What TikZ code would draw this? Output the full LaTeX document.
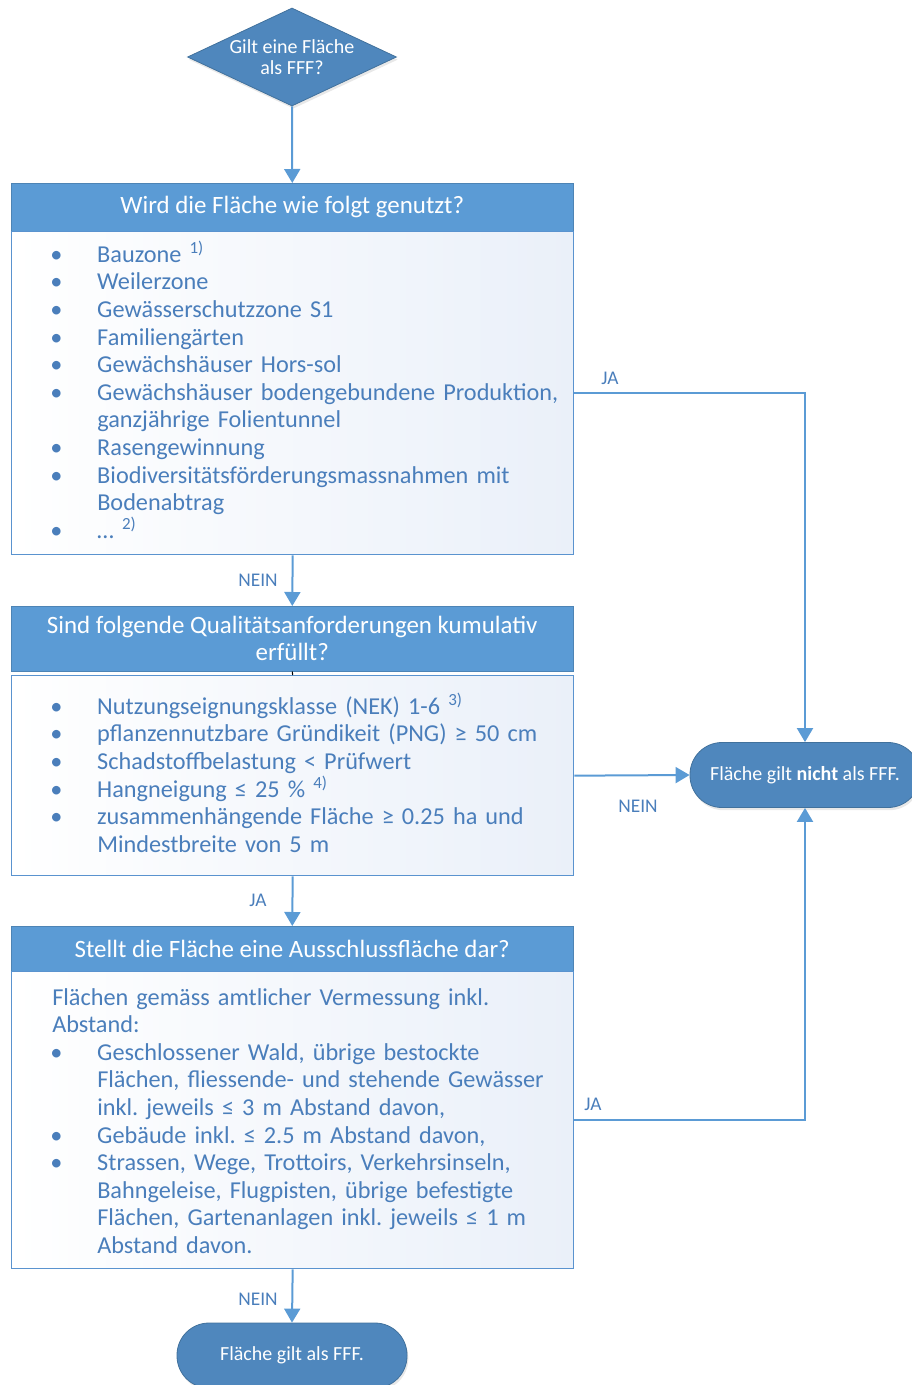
\documentclass[tikz,border=0pt]{standalone}
\usepackage{fontspec}
\setmainfont{Carlito}
\usetikzlibrary{shapes.geometric,arrows.meta,shadows}
\definecolor{hdrblue}{HTML}{5B9BD5}
\definecolor{termblue}{HTML}{4F87BD}
\definecolor{termedge}{HTML}{41719C}
\definecolor{txtblue}{HTML}{4A7EBB}
\definecolor{lineblue}{HTML}{5B9BD5}
\definecolor{edgeblue}{HTML}{5A93CF}
\definecolor{shadeblue}{HTML}{EAF0F9}
\hfuzz=60pt
\hbadness=10000
\frenchspacing
\newcommand\bitem[1]{\par\hangindent=33.75pt\hangafter=1\noindent\strut\makebox[33.75pt][l]{\hspace{-1.5pt}\textbullet}#1}
\newcommand\fn[1]{\textsuperscript{\smash{#1}}}
\begin{document}
\begin{tikzpicture}[x=0.75pt,y=-0.75pt,
  arr/.style={draw=lineblue, line width=1.5pt, -{Triangle[width=12pt,length=10.5pt]}},
  hdr/.style={rectangle, anchor=north west, fill=hdrblue, draw=hdrblue!85!black, line width=0.4pt,
    minimum width=421.5pt, text=white, align=center, inner sep=0pt,
    font=\fontsize{18.7pt}{20.25pt}\selectfont},
  body/.style={rectangle, anchor=north west, draw=edgeblue, line width=1pt,
    left color=white, right color=shadeblue, minimum width=421.5pt, inner sep=0pt},
  btxt/.style={anchor=north west, text width=480pt, inner xsep=0.75pt, inner ysep=0pt, text=txtblue,
    align=left, font=\fontsize{18.2pt}{20.7pt}\selectfont,
    execute at begin node={\leftskip=30pt\parskip=0pt\frenchspacing\hyphenpenalty=10000\lineskiplimit=-100pt}},
  term/.style={rectangle, rounded corners=24pt, fill=termblue, draw=termedge, line width=0.6pt,
    minimum width=172.5pt, minimum height=48.75pt, text=white, inner sep=0pt,
    font=\fontsize{15pt}{18pt}\selectfont, drop shadow={opacity=0.18, shadow xshift=1pt, shadow yshift=-2pt}},
  dia/.style={diamond, fill=termblue, draw=termedge, line width=0.6pt, inner sep=0pt,
    minimum width=156.75pt, minimum height=73.5pt,
    drop shadow={opacity=0.18, shadow xshift=1pt, shadow yshift=-2pt}},
  lbl/.style={text=txtblue, font=\fontsize{14.5pt}{17pt}\selectfont, inner sep=0pt}
]
\useasboundingbox (0,0) rectangle (911,1385);

% start diamond
\node[dia] (d) at (292,57) {};
\node[text=white, align=center, inner sep=0pt, font=\fontsize{15pt}{15.75pt}\selectfont] (dt) at (d.center) {Gilt eine Fläche\\als FFF?};

% box 1
\node[hdr, minimum height=36pt] (h1) at (11,183) {Wird die Fläche wie folgt genutzt?};
\node[body, minimum height=242.25pt] (b1) at (11,231) {};
\node[btxt] (b1t) at (11,234.4) {%
\bitem{Bauzone \fn{1)}}
\bitem{Weilerzone}
\bitem{Gewässerschutzzone S1}
\bitem{Familiengärten}
\bitem{Gewächshäuser Hors-sol}
\bitem{Gewächshäuser bodengebundene Produktion,\newline ganzjährige Folientunnel}
\bitem{Rasengewinnung}
\bitem{Biodiversitätsförderungsmassnahmen mit\newline Bodenabtrag}
\bitem{… \fn{2)}}\par};

% box 2
\node[hdr, minimum height=48.75pt] (h2) at (11,606) {Sind folgende Qualitätsanforderungen kumulativ\\erfüllt?};
\node[body, minimum height=150pt] (b2) at (11,675) {};
\node[btxt] (b2t) at (11,686.4) {%
\bitem{Nutzungseignungsklasse (NEK) 1-6 \fn{3)}}
\bitem{pflanzennutzbare Gründikeit (PNG) ≥ 50 cm}
\bitem{Schadstoffbelastung < Prüfwert}
\bitem{Hangneigung ≤ 25 \% \fn{4)}}
\bitem{zusammenhängende Fläche ≥ 0.25 ha und\newline Mindestbreite von 5 m}\par};

% box 3
\node[hdr, minimum height=33.75pt] (h3) at (11,926) {Stellt die Fläche eine Ausschlussfläche dar?};
\node[body, minimum height=222.75pt] (b3) at (11,971) {};
\node[btxt] (b3t) at (11,985.4) {%
\noindent\strut Flächen gemäss amtlicher Vermessung inkl.\newline Abstand:
\bitem{Geschlossener Wald, übrige bestockte\newline Flächen, fliessende- und stehende Gewässer\newline inkl. jeweils ≤ 3 m Abstand davon,}
\bitem{Gebäude inkl. ≤ 2.5 m Abstand davon,}
\bitem{Strassen, Wege, Trottoirs, Verkehrsinseln,\newline Bahngeleise, Flugpisten, übrige befestigte\newline Flächen, Gartenanlagen inkl. jeweils ≤ 1 m\newline Abstand davon.}\par};

% terminals
\node[term] (t1) at (805,775) {Fläche gilt \textbf{nicht} als FFF.};
\node[term] (t2) at (292,1355.5) {Fläche gilt als FFF.};

% connectors
\draw[arr] (d.south) -- (h1.north);
\draw[arr] (b1.south) -- (h2.north);
\draw[black, line width=0.8pt] (h2.south) -- (b2.north);
\draw[arr] (b2.south) -- (h3.north);
\draw[arr] (b3.south) -- (t2.north);
\draw[arr] (b1.east) -| (t1.north);
\draw[arr] (b2.east) -- (t1.west);
\draw[arr] (b3.east) -| (t1.south);

% labels
\node[lbl] (l1) at (610,378) {JA};
\node[lbl] (l2) at (258,580) {NEIN};
\node[lbl] (l3) at (638,806) {NEIN};
\node[lbl] (l4) at (258,900) {JA};
\node[lbl] (l5) at (593,1104) {JA};
\node[lbl] (l6) at (258,1299) {NEIN};
\end{tikzpicture}
\end{document}
